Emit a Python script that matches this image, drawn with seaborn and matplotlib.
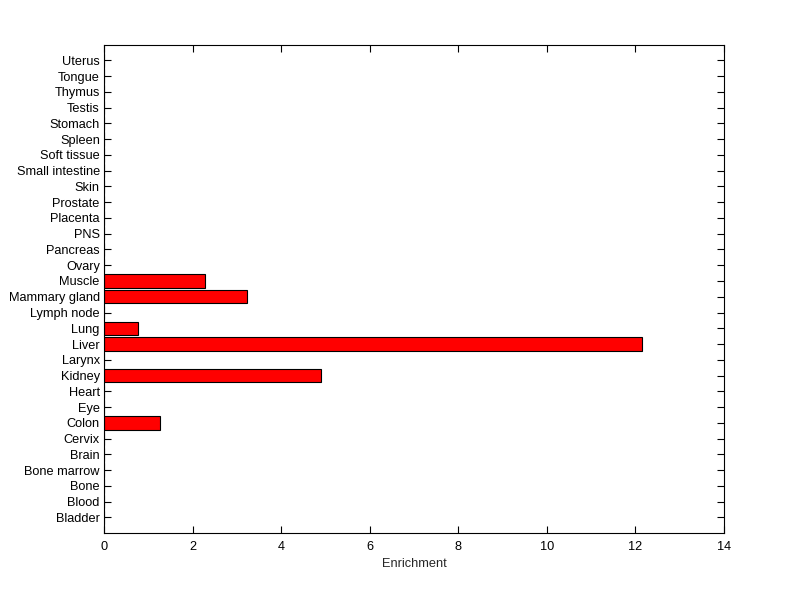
import matplotlib
matplotlib.use("Agg")
import matplotlib.pyplot as plt
import pandas as pd
import seaborn as sns

# Tissues, bottom to top as in the figure
tissues = [
    "Bladder", "Blood", "Bone", "Bone marrow", "Brain", "Cervix", "Colon",
    "Eye", "Heart", "Kidney", "Larynx", "Liver", "Lung", "Lymph node",
    "Mammary gland", "Muscle", "Ovary", "Pancreas", "PNS", "Placenta",
    "Prostate", "Skin", "Small intestine", "Soft tissue", "Spleen",
    "Stomach", "Testis", "Thymus", "Tongue", "Uterus",
]
enrichment = [
    0, 0, 0, 0, 0, 0, 1.26,
    0, 0, 4.91, 0, 12.14, 0.77, 0,
    3.24, 2.27, 0, 0, 0, 0,
    0, 0, 0, 0, 0,
    0, 0, 0, 0, 0,
]
x_ticks = [0, 2, 4, 6, 8, 10, 12, 14]

df = pd.DataFrame({"Tissue": tissues, "Enrichment": enrichment})

sns.set_style("white")
plt.rcParams["font.family"] = ["Liberation Sans", "DejaVu Sans"]

fig = plt.figure(figsize=(8, 5.99), dpi=100)
ax = fig.add_axes([0.13, 0.11, 0.775, 0.8155])

sns.barplot(
    data=df,
    x="Enrichment",
    y="Tissue",
    order=tissues[::-1],
    orient="h",
    color="red",
    saturation=1,
    edgecolor="black",
    linewidth=0.8,
    width=0.85,
    ax=ax,
)

ax.set_xlim(0, 14)
ax.set_ylim(len(tissues), -1)
ax.set_xticks(x_ticks)
ax.set_xticklabels([str(t) for t in x_ticks])
ax.set_xlabel("Enrichment", fontsize=9.2, labelpad=3.5)
ax.set_ylabel("")

ax.tick_params(
    axis="both", direction="in", length=5, width=0.8,
    bottom=True, left=True, top=True, right=True,
    labelsize=9.2, colors="black", pad=3,
)
ax.tick_params(axis="x", pad=5.5)
for spine in ax.spines.values():
    spine.set_visible(True)
    spine.set_color("black")
    spine.set_linewidth(0.8)

fig.savefig("out.png", dpi=100, facecolor="white")
